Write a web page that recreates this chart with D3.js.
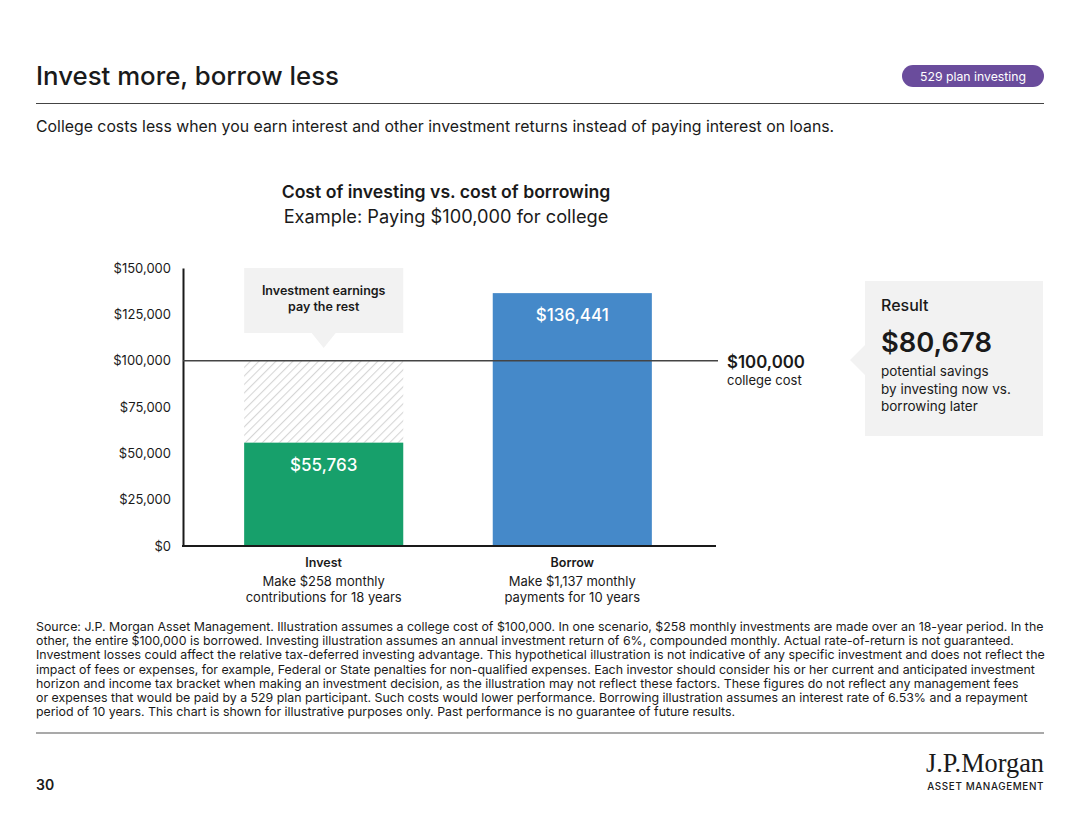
<!DOCTYPE html>
<html>
<head>
<meta charset="utf-8">
<script src="https://cdn.jsdelivr.net/npm/d3@7"></script>
<style>
  body { margin: 0; background: #fff; }
  svg { font-family: Inter, "Noto Sans", sans-serif; }
</style>
</head>
<body>
<svg id="chart" width="1080" height="826"></svg>
<script>
// data
const categories = ["Invest", "Borrow"];
const barValues = [55763, 136441];
const barLabels = ["$55,763", "$136,441"];
const subLabels = [
  ["Make $258 monthly", "contributions for 18 years"],
  ["Make $1,137 monthly", "payments for 10 years"]
];
const collegeCost = 100000;
const yTicks = [0, 25000, 50000, 75000, 100000, 125000, 150000];
const savingsLines = ["potential savings", "by investing now vs.", "borrowing later"];
const footnote = [
  "Source: J.P. Morgan Asset Management. Illustration assumes a college cost of $100,000. In one scenario, $258 monthly investments are made over an 18-year period. In the",
  "other, the entire $100,000 is borrowed. Investing illustration assumes an annual investment return of 6%, compounded monthly. Actual rate-of-return is not guaranteed.",
  "Investment losses could affect the relative tax-deferred investing advantage. This hypothetical illustration is not indicative of any specific investment and does not reflect the",
  "impact of fees or expenses, for example, Federal or State penalties for non-qualified expenses. Each investor should consider his or her current and anticipated investment",
  "horizon and income tax bracket when making an investment decision, as the illustration may not reflect these factors. These figures do not reflect any management fees",
  "or expenses that would be paid by a 529 plan participant. Such costs would lower performance. Borrowing illustration assumes an interest rate of 6.53% and a repayment",
  "period of 10 years. This chart is shown for illustrative purposes only. Past performance is no guarantee of future results."
];

const colors = { Invest: "#17a06b", Borrow: "#4589c9" };
const ink = "#1a1a1a";

let svg = d3.select("#chart");

// scale a text's font so it spans a given width
function fit(sel, w) {
  let len = sel.node().getComputedTextLength();
  let fs = parseFloat(sel.attr("font-size"));
  sel.attr("font-size", fs * w / len);
  return fs * w / len;
}

// header
fit(svg.append("text").attr("x", 36).attr("y", 85).attr("font-size", 26)
  .attr("font-weight", 500).attr("fill", ink).text("Invest more, borrow less"), 303);

svg.append("line").attr("x1", 36).attr("x2", 1044).attr("y1", 103.5).attr("y2", 103.5)
  .attr("stroke", "#444").attr("stroke-width", 1.2);

svg.append("rect").attr("x", 902).attr("y", 65).attr("width", 142).attr("height", 22)
  .attr("rx", 11).attr("fill", "#6a4c9c");
fit(svg.append("text").attr("x", 973).attr("y", 80.5).attr("text-anchor", "middle")
  .attr("font-size", 13).attr("fill", "#fff").text("529 plan investing"), 106);

fit(svg.append("text").attr("x", 36).attr("y", 132).attr("font-size", 15.5)
  .attr("fill", ink)
  .text("College costs less when you earn interest and other investment returns instead of paying interest on loans."), 799);

// chart titles
fit(svg.append("text").attr("x", 446).attr("y", 198).attr("text-anchor", "middle")
  .attr("font-size", 18).attr("font-weight", 600).attr("fill", ink)
  .text("Cost of investing vs. cost of borrowing"), 329);
fit(svg.append("text").attr("x", 446).attr("y", 223).attr("text-anchor", "middle")
  .attr("font-size", 18).attr("fill", ink)
  .text("Example: Paying $100,000 for college"), 325);

// scales
let x = d3.scaleBand().domain(categories).range([182, 714])
  .paddingInner(0.36).paddingOuter(0.25);
let y = d3.scaleLinear().domain([0, 150000]).range([546, 268]);

// hatch pattern
let defs = svg.append("defs");
defs.append("pattern").attr("id", "hatch").attr("patternUnits", "userSpaceOnUse")
  .attr("width", 6).attr("height", 6).attr("patternTransform", "rotate(45)")
  .append("line").attr("x1", 0).attr("y1", 0).attr("x2", 0).attr("y2", 6)
  .attr("stroke", "#d6d6d6").attr("stroke-width", 2.2);

let g = svg.append("g");

// hatched part: investment earnings up to college cost
g.append("rect")
  .attr("x", x("Invest"))
  .attr("y", y(collegeCost))
  .attr("width", x.bandwidth())
  .attr("height", y(barValues[0]) - y(collegeCost))
  .attr("fill", "url(#hatch)");

// bars
g.selectAll(".bar")
  .data(categories)
  .join("rect")
  .attr("class", "bar")
  .attr("x", d => x(d))
  .attr("y", (d, i) => y(barValues[i]))
  .attr("width", x.bandwidth())
  .attr("height", (d, i) => y(0) - y(barValues[i]))
  .attr("fill", d => colors[d]);

g.selectAll(".bar-label")
  .data(categories)
  .join("text")
  .attr("class", "bar-label")
  .attr("x", d => x(d) + x.bandwidth() / 2)
  .attr("y", (d, i) => y(barValues[i]) + 28)
  .attr("text-anchor", "middle")
  .attr("font-size", 17)
  .attr("font-weight", 500)
  .attr("fill", "#fff")
  .text((d, i) => barLabels[i]);

// callout above the invest bar
let cx = x("Invest") + x.bandwidth() / 2;
g.append("path")
  .attr("d", `M${x("Invest")},${y(150000)}h${x.bandwidth()}v65h${-(x.bandwidth() / 2 - 12)}l-12,15l-12,-15H${x("Invest")}Z`)
  .attr("fill", "#f2f2f2");
g.selectAll(".callout")
  .data(["Investment earnings", "pay the rest"])
  .join("text")
  .attr("x", cx)
  .attr("y", (d, i) => y(150000) + 27 + i * 16)
  .attr("text-anchor", "middle")
  .attr("font-size", 12.5)
  .attr("font-weight", 600)
  .attr("fill", ink)
  .text(d => d);

// axes
let yAxis = g.append("g").attr("transform", "translate(183,0)")
  .call(d3.axisLeft(y).tickValues(yTicks).tickSize(0).tickPadding(12)
    .tickFormat(d => "$" + d3.format(",")(d)));
yAxis.select(".domain").attr("stroke", ink).attr("stroke-width", 2);
yAxis.selectAll("text").attr("font-size", 13).attr("fill", ink)
  .attr("font-family", "Inter, sans-serif");

g.append("line").attr("x1", 182).attr("x2", 716).attr("y1", y(0)).attr("y2", y(0))
  .attr("stroke", ink).attr("stroke-width", 2);

// college cost line
g.append("line").attr("x1", 183).attr("x2", 718)
  .attr("y1", y(collegeCost)).attr("y2", y(collegeCost))
  .attr("stroke", "#444").attr("stroke-width", 1.5);
fit(g.append("text").attr("x", 727).attr("y", y(collegeCost) + 7).attr("font-size", 17)
  .attr("font-weight", 600).attr("fill", ink).text("$" + d3.format(",")(collegeCost)), 78);
g.append("text").attr("x", 727).attr("y", y(collegeCost) + 24).attr("font-size", 13)
  .attr("fill", ink).text("college cost");

// category labels
let xl = g.selectAll(".xlab").data(categories).join("g")
  .attr("transform", d => `translate(${x(d) + x.bandwidth() / 2},0)`);
xl.append("text").attr("y", 567).attr("text-anchor", "middle").attr("font-size", 12.5)
  .attr("font-weight", 600).attr("fill", ink).text(d => d);
xl.selectAll(".sub").data((d, i) => subLabels[i]).join("text")
  .attr("y", (d, i) => 586 + i * 16).attr("text-anchor", "middle")
  .attr("font-size", 13).attr("fill", ink).text(d => d);

// result box
let rb = svg.append("g").attr("transform", "translate(865,281)");
rb.append("path").attr("d", "M0,0H178V155H0V94L-15,79L0,64Z").attr("fill", "#f2f2f2");
rb.append("text").attr("x", 16).attr("y", 30).attr("font-size", 16).attr("font-weight", 500)
  .attr("fill", ink).text("Result");
fit(rb.append("text").attr("x", 16).attr("y", 71).attr("font-size", 30).attr("font-weight", 600)
  .attr("fill", ink).text("$" + d3.format(",")(barValues[1] - 55763)), 111);
rb.selectAll(".sv").data(savingsLines).join("text")
  .attr("x", 16).attr("y", (d, i) => 95 + i * 17.5).attr("font-size", 13.5)
  .attr("fill", ink).text(d => d);

// footnote
let fn = svg.append("g").selectAll("text").data(footnote).join("text")
  .attr("x", 36).attr("y", (d, i) => 631 + i * 14.2)
  .attr("font-size", 12.5).attr("fill", ink).text(d => d);
let fs = fit(d3.select(fn.nodes()[0]), 1009);
fn.attr("font-size", fs);

svg.append("line").attr("x1", 36).attr("x2", 1044).attr("y1", 733).attr("y2", 733)
  .attr("stroke", "#555").attr("stroke-width", 1.2);

svg.append("text").attr("x", 36).attr("y", 790).attr("font-size", 14).attr("font-weight", 600)
  .attr("fill", ink).text("30");

// logo
fit(svg.append("text").attr("x", 1044).attr("y", 772).attr("text-anchor", "end")
  .attr("font-family", "'Liberation Serif', 'DejaVu Serif', serif")
  .attr("font-size", 26).attr("fill", ink).text("J.P.Morgan"), 118);
fit(svg.append("text").attr("x", 1044).attr("y", 790).attr("text-anchor", "end")
  .attr("font-size", 11).attr("font-weight", 500).attr("letter-spacing", 0.6)
  .attr("fill", ink).text("ASSET MANAGEMENT"), 116);
</script>
</body>
</html>
